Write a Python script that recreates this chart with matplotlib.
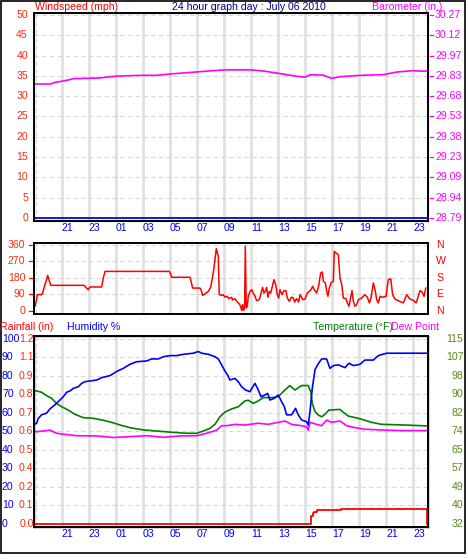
import matplotlib
matplotlib.use('Agg')
import matplotlib.pyplot as plt
from matplotlib.transforms import blended_transform_factory
from matplotlib.patches import Rectangle

plt.rcParams['font.family'] = ['Liberation Sans', 'DejaVu Sans']
FS = 7.6

# ---------------- data ----------------
tick_hours = [21, 23, 25, 27, 29, 31, 33, 35, 37, 39, 41, 43, 45, 47]
tick_labels = ['21', '23', '01', '03', '05', '07', '09', '11', '13', '15', '17', '19', '21', '23']

wind_ticks = [0, 5, 10, 15, 20, 25, 30, 35, 40, 45, 50]
baro_tick_labels = ['28.79', '28.94', '29.09', '29.23', '29.38', '29.53', '29.68',
                    '29.83', '29.97', '30.12', '30.27']
dir_ticks = [0, 90, 180, 270, 360]
dir_names = ['N', 'E', 'S', 'W', 'N']
hum_ticks = [0, 10, 20, 30, 40, 50, 60, 70, 80, 90, 100]
rain_tick_labels = ['0.0', '0.1', '0.2', '0.4', '0.5', '0.6', '0.7', '0.8', '0.9', '1.1', '1.2']
temp_tick_labels = ['32', '40', '49', '57', '65', '74', '82', '90', '98', '107', '115']

wind_hours = [19.0, 48.0]
windspeed = [0, 0]

baro_hours = [19.00, 20.20, 20.36, 20.98, 21.47, 21.84, 23.81, 24.56, 25.17, 26.78, 28.01,
              29.00, 31.00, 33.00, 35.00, 36.04, 37.00, 38.48, 39.00, 39.37, 40.33, 40.98,
              41.59, 43.07, 44.78, 45.79, 47.00, 47.74, 48.00]
barometer = [29.767, 29.767, 29.776, 29.787, 29.796, 29.806, 29.811, 29.820, 29.825, 29.830,
             29.830, 29.840, 29.855, 29.870, 29.870, 29.860, 29.845, 29.822, 29.817, 29.834,
             29.832, 29.808, 29.820, 29.830, 29.835, 29.854, 29.864, 29.860, 29.862]

dir_hours = [19.00, 19.12, 19.17, 19.49, 19.57, 19.74, 19.86, 19.94, 20.04, 20.16, 22.63,
             22.83, 22.95, 23.07, 23.94, 24.06, 24.19, 28.95, 29.05, 29.12, 30.48, 30.56,
             30.68, 31.22, 31.30, 31.42, 31.59, 31.84, 32.01, 32.14, 32.26, 32.36, 32.43,
             32.51, 32.58, 32.65, 32.83, 32.95, 33.07, 33.25, 33.35, 33.57, 33.64, 33.82,
             33.94, 34.14, 34.23, 34.31, 34.38, 34.46, 34.53, 34.58, 34.65, 34.73, 34.80,
             34.93, 35.05, 35.17, 35.30, 35.42, 35.62, 35.72, 35.86, 35.96, 36.06, 36.16,
             36.26, 36.36, 36.46, 36.58, 36.70, 36.83, 36.95, 37.05, 37.15, 37.30, 37.44,
             37.59, 37.69, 37.84, 38.01, 38.14, 38.23, 38.38, 38.53, 38.63, 38.75, 38.83,
             39.00, 39.17, 39.32, 39.44, 39.57, 39.69, 39.86, 40.01, 40.16, 40.28, 40.36,
             40.51, 40.61, 40.70, 40.80, 40.95, 41.10, 41.17, 41.30, 41.47, 41.59, 41.72,
             41.84, 42.04, 42.14, 42.26, 42.38, 42.48, 42.58, 42.70, 42.83, 42.95, 43.20,
             43.44, 43.62, 43.77, 43.89, 44.06, 44.19, 44.31, 44.43, 44.56, 44.75, 45.00,
             45.17, 45.35, 45.49, 45.67, 45.91, 46.28, 46.53, 46.78, 47.03, 47.22, 47.35,
             47.52, 47.67, 47.82, 47.94]
wind_dir = [26, 62, 89, 89, 98, 144, 171, 194, 171, 140, 140, 125, 116, 131, 131, 180, 216,
            216, 202, 184, 184, 162, 125, 125, 116, 85, 93, 107, 129, 180, 235, 298, 340, 316,
            298, 89, 85, 89, 76, 80, 67, 75, 60, 67, 53, 38, 26, 2, 35, 2, 26, 353, 16, 26,
            80, 107, 116, 98, 80, 56, 62, 89, 129, 98, 107, 129, 75, 107, 98, 135, 171, 144,
            89, 71, 116, 89, 111, 111, 71, 53, 76, 71, 49, 67, 49, 89, 75, 62, 65, 98, 107,
            116, 135, 116, 98, 135, 207, 213, 162, 153, 107, 80, 125, 156, 162, 325, 316, 307,
            180, 144, 71, 67, 44, 26, 71, 111, 53, 26, 35, 62, 71, 89, 75, 44, 71, 153, 116,
            62, 44, 80, 75, 80, 171, 176, 89, 65, 56, 44, 89, 65, 58, 44, 71, 111, 104, 80, 125]

hum_hours = [19.00, 19.12, 19.25, 19.49, 19.86, 20.11, 20.48, 20.85, 21.10, 21.35, 21.59,
             21.84, 22.21, 22.46, 22.70, 23.57, 23.94, 24.56, 25.05, 25.54, 26.04, 26.53,
             27.27, 27.64, 28.14, 28.51, 29.00, 29.50, 29.99, 30.73, 31.10, 31.35, 31.84,
             32.33, 32.58, 32.83, 33.07, 33.27, 33.44, 33.81, 34.06, 34.30, 34.60, 34.92,
             35.29, 35.49, 35.74, 36.03, 36.23, 36.40, 36.72, 37.02, 37.27, 37.47, 37.64,
             38.01, 38.30, 38.50, 38.75, 39.12, 39.24, 39.37, 39.54, 39.74, 39.93, 40.23,
             40.60, 40.85, 41.10, 41.47, 41.96, 42.26, 42.58, 43.07, 43.44, 44.06, 44.43,
             45.05, 48.00]
humidity = [54, 54.4, 57.1, 59.0, 59.9, 62.2, 64.4, 67.0, 68.8, 71.2, 71.9, 73.3, 74.2, 76.0,
            76.9, 77.8, 79.1, 80.2, 82.4, 84.1, 86.3, 87.7, 88.1, 89.2, 89.2, 90.4, 91.0, 91.0,
            91.7, 92.3, 93.2, 92.3, 91.7, 90.4, 89.2, 85.9, 82.7, 80.5, 77.8, 78.7, 76.9, 74.2,
            72.4, 71.5, 76.0, 73.3, 68.8, 69.7, 70.6, 67.0, 67.9, 69.7, 66.1, 63.4, 59.0, 59.0,
            62.5, 59.0, 56.2, 55.3, 53.5, 60.7, 73.3, 83.3, 86.0, 89.2, 89.2, 84.1, 85.6, 86.0,
            84.5, 86.9, 85.6, 86.3, 88.6, 88.6, 91.0, 92.3, 92.3]

temp_hours = [19.00, 19.12, 19.49, 19.86, 20.23, 20.60, 20.98, 21.47, 21.96, 22.58, 23.32,
              23.94, 24.68, 25.30, 26.04, 27.02, 28.01, 29.25, 30.23, 30.98, 31.47, 31.96,
              32.33, 32.70, 33.07, 33.56, 34.06, 34.55, 34.80, 35.17, 35.54, 35.91, 36.53,
              37.02, 37.51, 37.88, 38.25, 38.75, 39.24, 39.44, 39.54, 39.74, 39.98, 40.23,
              40.48, 40.77, 41.59, 41.84, 42.21, 42.95, 43.93, 44.68, 46.40, 48.00]
temperature = [91.7, 91.7, 91.1, 89.6, 88.4, 86.1, 84.6, 83.1, 81.2, 79.7, 79.4, 78.7, 77.6,
               76.4, 75.2, 74.2, 73.7, 73.1, 72.7, 72.7, 73.7, 74.9, 76.7, 80.1, 82.2, 83.6,
               84.6, 87.2, 87.5, 86.1, 87.2, 88.7, 88.7, 89.1, 92.1, 94.1, 92.1, 94.1, 94.1,
               91.1, 86.1, 82.4, 80.9, 80.1, 81.2, 83.1, 83.4, 82.1, 80.4, 79.4, 77.6, 76.7,
               76.4, 76.0]

dew_hours = [19.00, 19.12, 19.62, 20.11, 20.60, 21.10, 22.09, 23.57, 24.80, 26.04, 27.27,
             28.51, 29.74, 30.98, 31.72, 32.46, 32.83, 33.20, 33.81, 34.55, 35.54, 36.28,
             37.02, 37.51, 38.01, 38.75, 39.12, 39.24, 39.37, 39.86, 40.23, 40.60, 40.97,
             41.59, 42.08, 42.70, 43.44, 44.92, 46.16, 48.00]
dewpoint = [73.4, 73.4, 73.7, 74.1, 72.7, 72.3, 71.6, 71.5, 70.8, 71.2, 71.6, 70.9, 71.5,
            71.6, 72.7, 74.1, 76.1, 76.1, 76.7, 76.4, 77.2, 76.7, 77.6, 78.2, 76.7, 76.1,
            75.6, 74.1, 77.6, 76.7, 76.1, 78.6, 77.6, 78.2, 76.1, 75.2, 74.5, 74.1, 73.9, 73.9]

rain_hours = [19.00, 39.44, 39.60, 39.70, 39.90, 41.67, 48.00]
rainfall = [0.0, 0.054, 0.069, 0.080, 0.089, 0.099, 0.0]

# ---------------- layout ----------------
W, H = 468, 559
fig = plt.figure(figsize=(W / 100, H / 100), dpi=100)
fig.patch.set_facecolor('white')


def fx(px):
    return px / W


def fy(py):
    return 1 - py / H


def add_axes(left, top, right, bottom):
    return fig.add_axes([fx(left), fy(bottom), (right - left) / W, (bottom - top) / H])


RED = '#ff0000'
LRED = '#ff2a10'
BLUE = '#0000ff'
MAG = '#ff00ff'
GREEN = '#008000'
OLIVE = '#5a8a10'
GRID = '#e2e2e2'
XLIM = (18.93, 48.11)


def style(ax, xlabels=True):
    ax.set_xlim(*XLIM)
    for t in tick_hours:
        ax.axvline(t, color=GRID, lw=2.1, zorder=0)
    ax.axvline(19.05, color='#dadada', lw=0.8, ls=(0, (4, 3)), zorder=0)
    for s in ax.spines.values():
        s.set_linewidth(1.4)
        s.set_color('black')
    ax.set_xticks(tick_hours)
    if xlabels:
        ax.set_xticklabels(tick_labels)
        ax.tick_params(axis='x', length=0, pad=1.5, labelcolor=BLUE, labelsize=FS)
        for lab in ax.get_xticklabels():
            lab.set_ha('left')
    else:
        ax.set_xticklabels([])
        ax.tick_params(axis='x', length=0)
    ax.set_yticks([])


def hgrid(ax, vals):
    for v in vals:
        ax.axhline(v, color='#d8d8d8', lw=0.8, ls=(0, (4, 3)), zorder=0)


# ---- top panel: windspeed / barometer ----
ax1 = add_axes(34, 13, 428, 221)
style(ax1)
ax1.set_ylim(-0.74, 50.49)
hgrid(ax1, wind_ticks[1:])
ax1.plot(wind_hours, windspeed, color=BLUE, lw=1.3, zorder=3, clip_on=False)
ax1b = ax1.twinx()
ax1b.set_ylim(28.768, 30.2846)
ax1b.set_yticks([])
ax1b.plot(baro_hours, barometer, color=MAG, lw=1.2)
tr1 = blended_transform_factory(fig.transFigure, ax1.transData)
for v, bl in zip(wind_ticks, baro_tick_labels):
    ax1.text(fx(28), v, str(v), transform=tr1, ha='right', va='center', color=LRED, fontsize=FS)
    ax1.plot([fx(429.5), fx(433)], [v, v], transform=tr1, color=MAG, lw=0.9, clip_on=False)
    ax1.text(fx(435), v, bl, transform=tr1, ha='left', va='center', color=MAG, fontsize=FS)

# ---- middle panel: wind direction ----
ax2 = add_axes(34, 243, 428, 314)
style(ax2, xlabels=False)
ax2.set_ylim(-16.4, 370.9)
hgrid(ax2, dir_ticks[1:])
ax2.plot(dir_hours, wind_dir, color=RED, lw=1.1)
tr2 = blended_transform_factory(fig.transFigure, ax2.transData)
for v, nm in zip(dir_ticks, dir_names):
    ax2.text(fx(25.5), v, str(v), transform=tr2, ha='right', va='center', color=LRED, fontsize=FS)
    ax2.plot([fx(29), fx(32.5)], [v, v], transform=tr2, color=RED, lw=0.9, clip_on=False)
    ax2.text(fx(436), v, nm, transform=tr2, ha='left', va='center', color=RED, fontsize=FS)

# ---- bottom panel: rain / humidity / temperature / dew point ----
ax3 = add_axes(34, 336, 428, 527)
style(ax3)
ax3.set_ylim(-1.62, 101.6)
hgrid(ax3, hum_ticks[1:])
ax3t = ax3.twinx()
ax3t.set_ylim(30.65, 116.33)
ax3t.set_yticks([])
ax3t.plot(temp_hours, temperature, color=GREEN, lw=1.2)
ax3t.plot(dew_hours, dewpoint, color=MAG, lw=1.2)
ax3h = ax3.twinx()
ax3h.set_ylim(-1.62, 101.6)
ax3h.set_yticks([])
ax3h.plot(hum_hours, humidity, color=BLUE, lw=1.2)
ax3r = ax3.twinx()
ax3r.set_ylim(-0.0195, 1.2195)
ax3r.set_yticks([])
ax3r.plot(rain_hours, rainfall, color=RED, lw=1.3, drawstyle='steps-post')
tr3 = blended_transform_factory(fig.transFigure, ax3.transData)
for v, rl, tl in zip(hum_ticks, rain_tick_labels, temp_tick_labels):
    ax3.text(fx(2), v, str(v), transform=tr3, ha='left', va='center', color=BLUE, fontsize=FS)
    ax3.text(fx(33.5), v, rl, transform=tr3, ha='right', va='center', color=LRED, fontsize=FS)
    ax3.text(fx(463.5), v, tl, transform=tr3, ha='right', va='center', color=OLIVE, fontsize=FS)

# ---- headers ----
fig.text(fx(35), fy(6.5), 'Windspeed (mph)', color=RED, fontsize=FS, ha='left', va='center')
fig.text(fx(249), fy(6.5), '24 hour graph day : July 06 2010', color='#000080', fontsize=FS,
         ha='center', va='center')
fig.text(fx(372), fy(6.5), 'Barometer (in.)', color=MAG, fontsize=FS, ha='left', va='center')
fig.text(fx(0.5), fy(327.5), 'Rainfall (in)', color=RED, fontsize=FS, ha='left', va='center')
fig.text(fx(67), fy(327.5), 'Humidity %', color=BLUE, fontsize=FS, ha='left', va='center')
fig.text(fx(313), fy(327.5), 'Temperature (°F)', color=GREEN, fontsize=FS, ha='left', va='center')
fig.text(fx(391), fy(327.5), 'Dew Point', color=MAG, fontsize=FS, ha='left', va='center')

# outer frame
fig.add_artist(Rectangle((fx(0.6), fy(553.4)), (465 - 0.6) / W, 552.8 / H,
                         transform=fig.transFigure, fill=False, ec='black', lw=1.2))

fig.savefig('out.png', dpi=100)
